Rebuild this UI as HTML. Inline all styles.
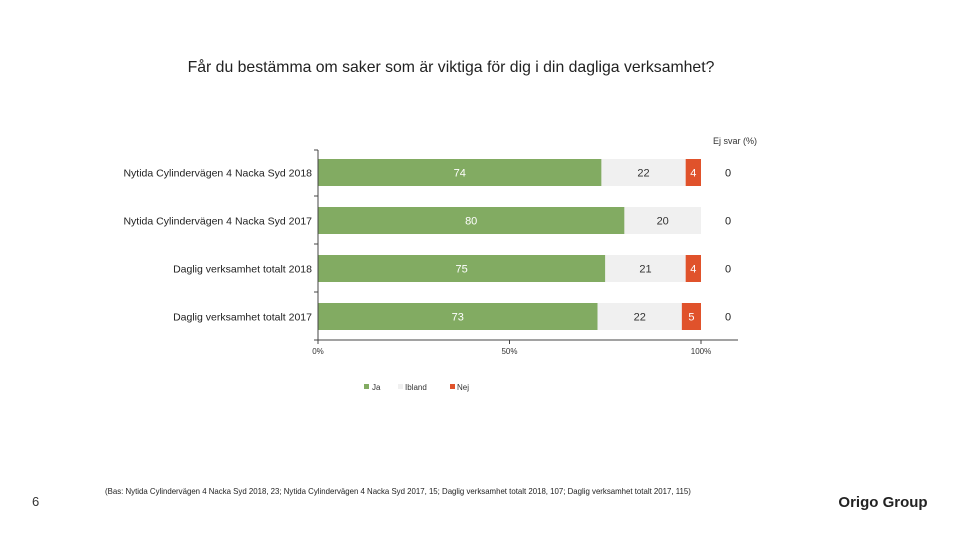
<!DOCTYPE html>
<html><head><meta charset="utf-8"><style>
body{margin:0;background:#fff;font-family:"Liberation Sans",sans-serif}
svg text{font-family:"Liberation Sans",sans-serif}
</style></head><body>
<svg width="960" height="540" viewBox="0 0 960 540">
<text x="451" y="72" text-anchor="middle" font-size="15.8" fill="#222">Får du bestämma om saker som är viktiga för dig i din dagliga verksamhet?</text>
<text x="735" y="144" text-anchor="middle" font-size="9" fill="#333">Ej svar (%)</text>
<g id="bars"></g>
<g id="axes"></g>
<g>
<rect x="364" y="384" width="5" height="5" fill="#82ab62"/>
<text x="372" y="390" font-size="8" fill="#333">Ja</text>
<rect x="398" y="384" width="5" height="5" fill="#f0f0f0"/>
<text x="405" y="390" font-size="8" fill="#333">Ibland</text>
<rect x="450" y="384" width="5" height="5" fill="#e0522b"/>
<text x="457" y="390" font-size="8" fill="#333">Nej</text>
</g>
<text x="105" y="494" font-size="7.85" fill="#222">(Bas: Nytida Cylindervägen 4 Nacka Syd 2018, 23; Nytida Cylindervägen 4 Nacka Syd 2017, 15; Daglig verksamhet totalt 2018, 107; Daglig verksamhet totalt 2017, 115)</text>
<text x="32" y="506" font-size="13" fill="#333">6</text>
<text x="883" y="507" text-anchor="middle" font-size="15" font-weight="bold" fill="#222">Origo Group</text>
</svg>
<script>
const categories=["Nytida Cylindervägen 4 Nacka Syd 2018","Nytida Cylindervägen 4 Nacka Syd 2017","Daglig verksamhet totalt 2018","Daglig verksamhet totalt 2017"];
const ja=[74,80,75,73];
const ibland=[22,20,21,22];
const nej=[4,0,4,5];
const ejSvar=[0,0,0,0];
const ticks=[0,50,100];
const NS="http://www.w3.org/2000/svg";
const x0=318,x1=701,yTop=150,rowH=48,barH=27;
const xs=v=>x0+(x1-x0)*v/100;
const rowY=i=>yTop+i*rowH+9;
function mk(t,a,p){const e=document.createElementNS(NS,t);for(const k in a)e.setAttribute(k,a[k]);p.appendChild(e);return e;}
const g=document.getElementById('bars'),ax=document.getElementById('axes');
const series=[[ja,"#82ab62","#fff","ja"],[ibland,"#f0f0f0","#333","ibland"],[nej,"#e0522b","#fff","nej"]];
categories.forEach((c,i)=>{
  const y=rowY(i);let acc=0;
  const lab=mk('text',{x:312,y:y+barH/2+4,'text-anchor':'end','font-size':10.5,fill:'#222'},g);lab.textContent=c;
  
  
  series.forEach(s=>{
    const v=s[0][i];if(v<=0)return;
    const r=mk('rect',{x:xs(acc),y:y,width:xs(acc+v)-xs(acc),height:barH,fill:s[1]},g);
    
    
    const t=mk('text',{x:(xs(acc)+xs(acc+v))/2,y:y+barH/2+4,'text-anchor':'middle','font-size':11,fill:s[2]},g);t.textContent=v;
    
    
    acc+=v;
  });
  const e=mk('text',{x:728,y:y+barH/2+4,'text-anchor':'middle','font-size':11,fill:'#222'},g);e.textContent=ejSvar[i];
  
  
});
const yBot=yTop+categories.length*rowH-2;
const yl=mk('line',{x1:x0,y1:yTop,x2:x0,y2:yBot,stroke:'#444','stroke-width':1},ax);


for(let i=0;i<=categories.length;i++){mk('line',{x1:x0-4,y1:yTop+i*rowH-2+(i==0?2:0),x2:x0,y2:yTop+i*rowH-2+(i==0?2:0),stroke:'#444'},ax);}
const xl=mk('line',{x1:x0,y1:yBot,x2:738,y2:yBot,stroke:'#444','stroke-width':1},ax);


ticks.forEach(t=>{
  mk('line',{x1:xs(t),y1:yBot,x2:xs(t),y2:yBot+4,stroke:'#444'},ax);
  const tl=mk('text',{x:xs(t),y:yBot+14,'text-anchor':'middle','font-size':8,fill:'#333'},ax);tl.textContent=t+'%';
  
  
});
</script>
</body></html>
